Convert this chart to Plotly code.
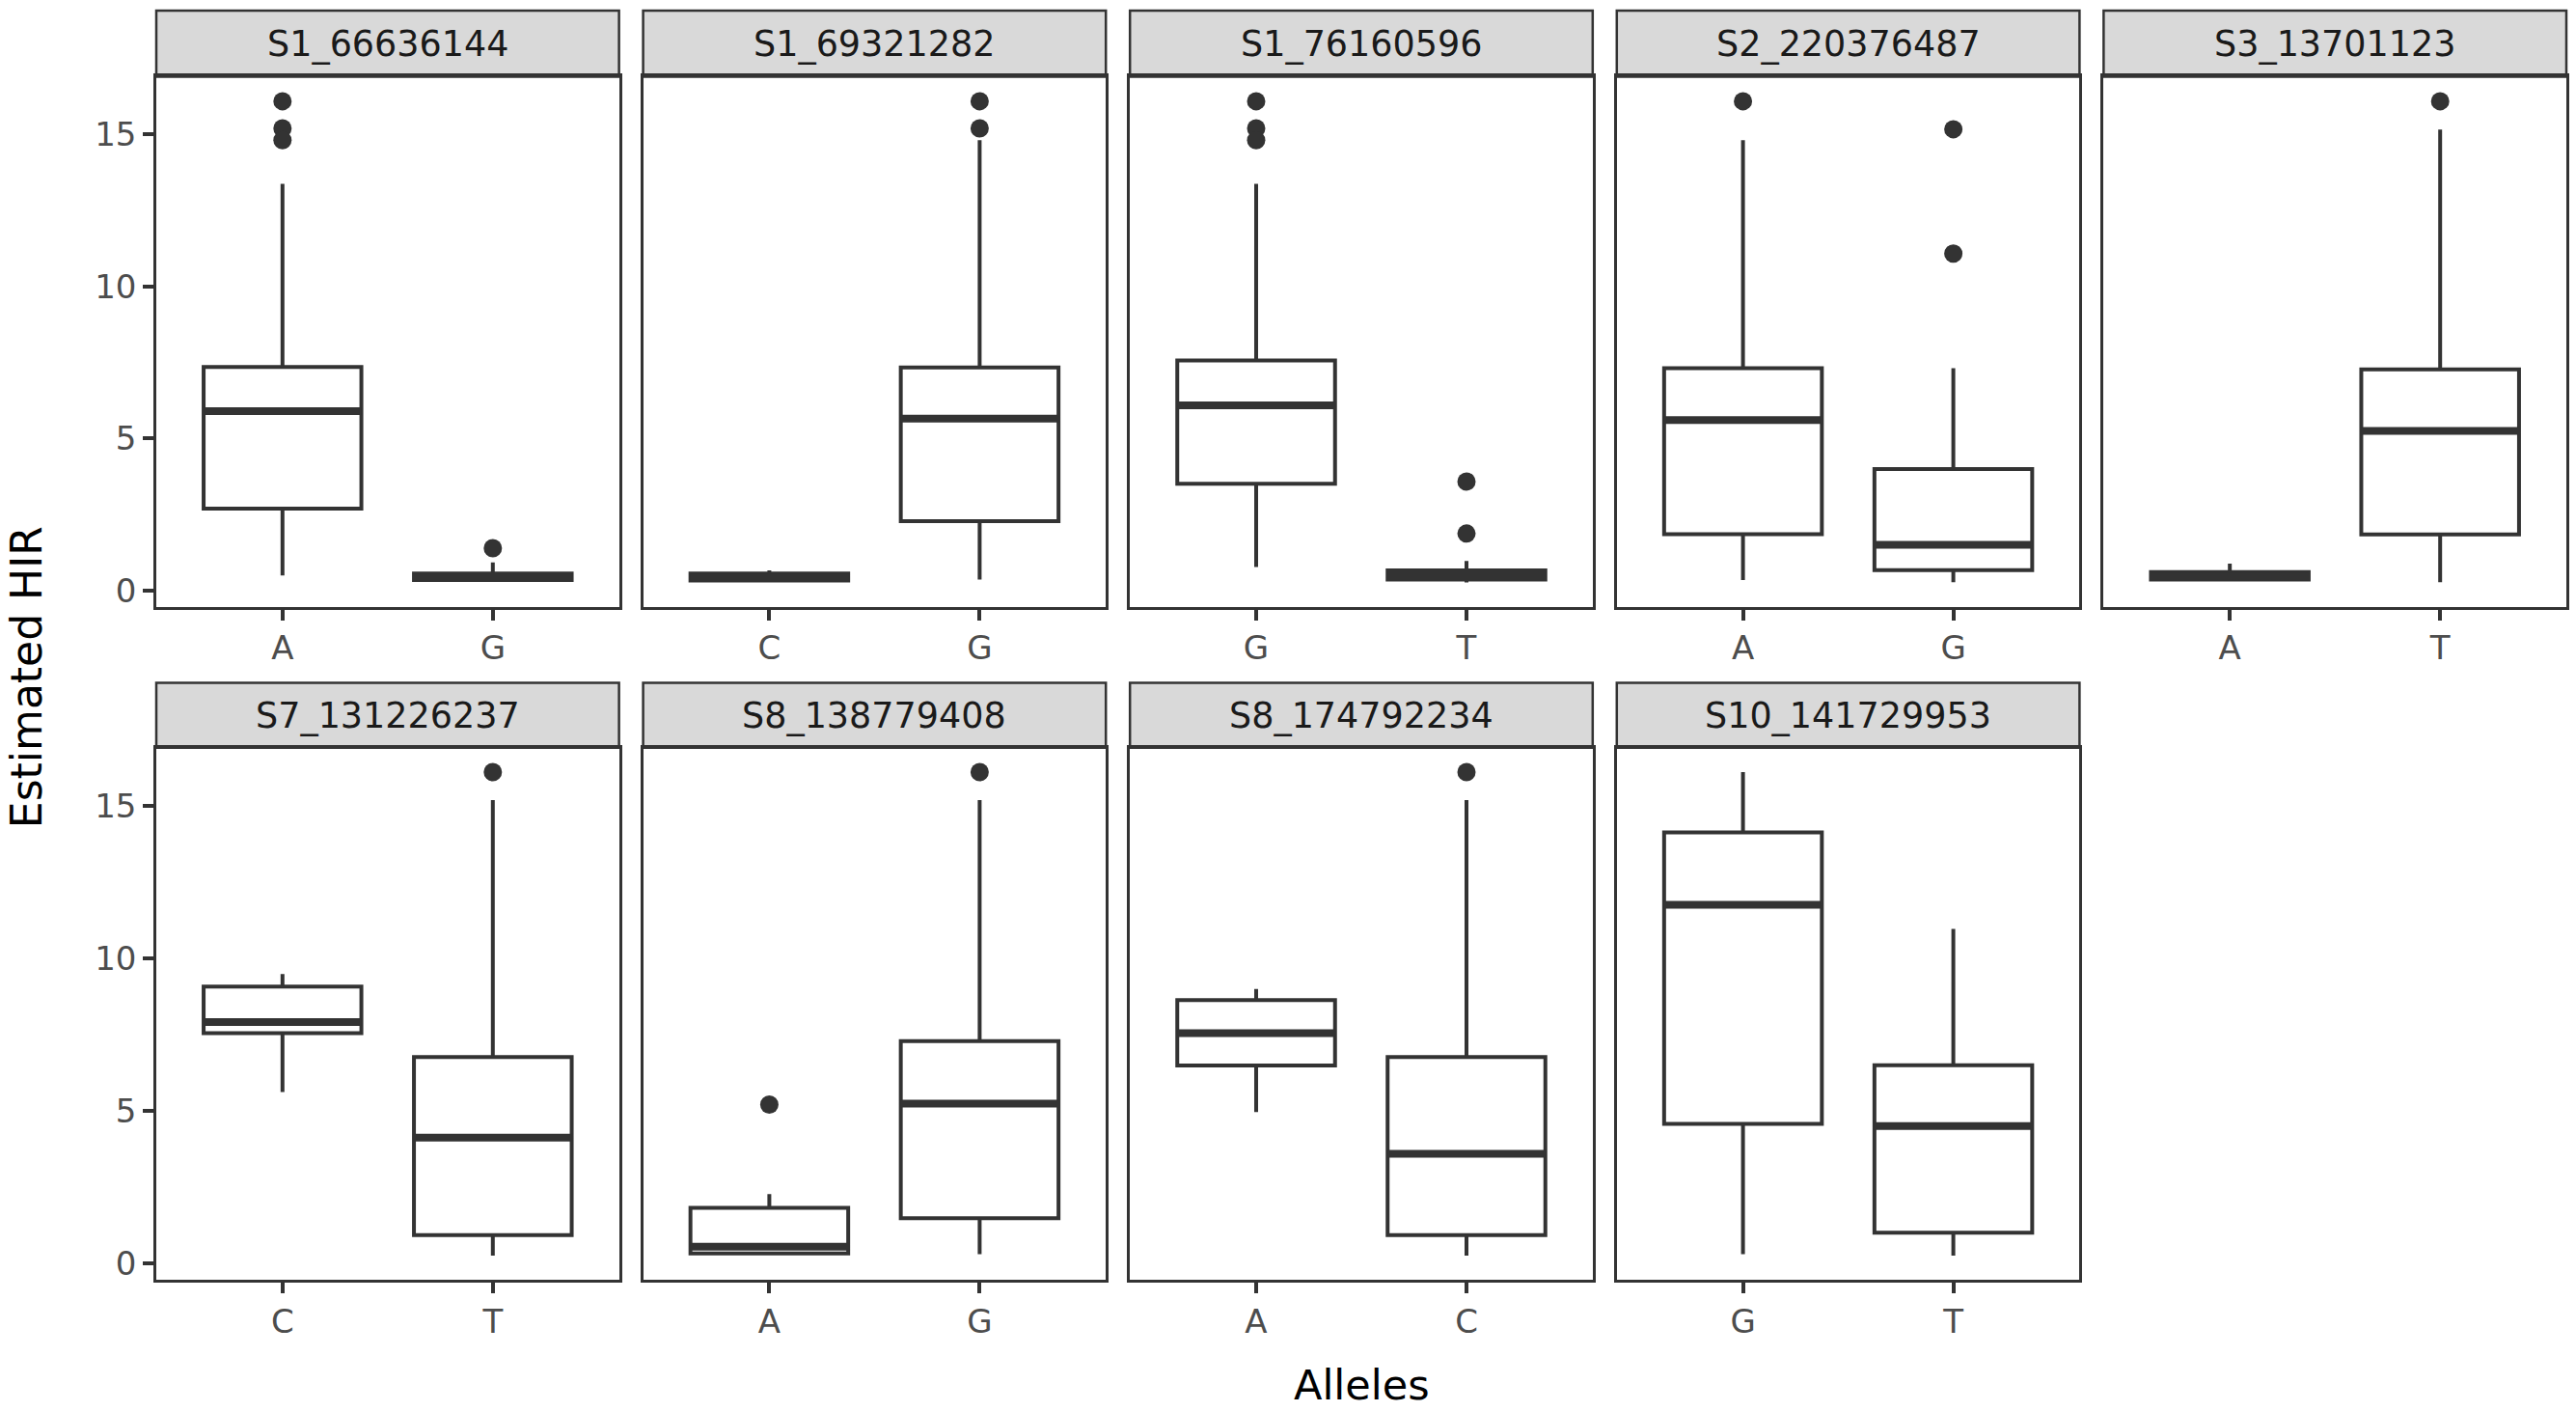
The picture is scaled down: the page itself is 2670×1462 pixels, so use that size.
import plotly.graph_objects as go

# ---- data ----
snps = ["S1_66636144", "S1_69321282", "S1_76160596", "S2_220376487", "S3_13701123",
        "S7_131226237", "S8_138779408", "S8_174792234", "S10_141729953"]
alleles = [["A", "G"], ["C", "G"], ["G", "T"], ["A", "G"], ["A", "T"],
           ["C", "T"], ["A", "G"], ["A", "C"], ["G", "T"]]
lower = [[0.49, 0.30], [0.30, 0.36], [0.77, 0.26], [0.34, 0.27], [0.30, 0.27],
         [5.61, 0.25], [0.27, 0.30], [4.96, 0.25], [0.30, 0.25]]
q1 = [[2.69, 0.34], [0.33, 2.28], [3.51, 0.36], [1.85, 0.67], [0.36, 1.84],
      [7.54, 0.92], [0.32, 1.48], [6.48, 0.92], [4.57, 1.00]]
median = [[5.90, 0.45], [0.42, 5.65], [6.09, 0.50], [5.60, 1.50], [0.45, 5.25],
          [7.91, 4.12], [0.54, 5.23], [7.54, 3.59], [11.75, 4.50]]
q3 = [[7.35, 0.56], [0.56, 7.33], [7.56, 0.66], [7.31, 3.99], [0.60, 7.27],
      [9.07, 6.76], [1.82, 7.28], [8.63, 6.76], [14.12, 6.49]]
upper = [[13.37, 0.92], [0.66, 14.81], [13.37, 0.97], [14.81, 7.31], [0.88, 15.16],
         [9.48, 15.18], [2.27, 15.18], [8.99, 15.18], [16.10, 10.96]]
outliers = [[[16.09, 15.20, 14.81], [1.39]], [[], [16.09, 15.20]], [[16.09, 15.20, 14.81], [3.58, 1.87]],
            [[16.09], [15.17, 11.08]], [[], [16.09]], [[], [16.10]], [[5.20], [16.10]],
            [[], [16.10]], [[], []]]
y_ticks = [0, 5, 10, 15]
x_title = "Alleles"
y_title = "Estimated HIR"

# ---- style ----
W, H = 2670, 1462
ML, MR, MT, MB = 162, 7, 11, 136
INK = "#333333"
BOX_W = 0.75
FONT = "DejaVu Sans"

fig = go.Figure()

ncol = 5
col_w, col_step = 0.192, 0.202
row_dom = [(0.5302, 0.9480), (0.0, 0.4192)]
strip_dom = [(0.9480, 1.0), (0.4192, 0.4704)]
yrange = [-0.54, 16.9]

annotations = []
shapes = []
for i, snp in enumerate(snps):
    r, c = divmod(i, ncol)
    sfx = "" if i == 0 else str(i + 1)
    xa, ya = "x" + sfx, "y" + sfx
    x0 = c * col_step
    x1 = x0 + col_w if c < ncol - 1 else 1.0
    for j, al in enumerate(alleles[i]):
        pos = j + 1
        fig.add_trace(go.Box(
            x=[pos], q1=[q1[i][j]], median=[median[i][j]], q3=[q3[i][j]],
            lowerfence=[lower[i][j]], upperfence=[upper[i][j]],
            boxpoints=False, fillcolor="white", line=dict(color=INK, width=4),
            whiskerwidth=0, width=BOX_W, xaxis=xa, yaxis=ya, showlegend=False,
            hoverinfo="skip"))
        fig.add_trace(go.Scatter(
            x=[pos - BOX_W / 2, pos + BOX_W / 2], y=[median[i][j], median[i][j]],
            mode="lines", line=dict(color=INK, width=8), xaxis=xa, yaxis=ya,
            showlegend=False, hoverinfo="skip"))
        if outliers[i][j]:
            fig.add_trace(go.Scatter(
                x=[pos] * len(outliers[i][j]), y=outliers[i][j], mode="markers",
                marker=dict(color=INK, size=19, line=dict(width=0)),
                xaxis=xa, yaxis=ya, showlegend=False, hoverinfo="skip"))
    first_col = c == 0
    fig.layout["xaxis" + sfx] = dict(
        domain=[x0, x1], anchor=ya, range=[0.4, 2.6], tickvals=[1, 2],
        ticktext=alleles[i], showgrid=False, zeroline=False, showline=True,
        mirror=True, linecolor=INK, linewidth=2.5, ticks="outside", ticklen=11,
        tickwidth=3.5, tickcolor=INK, tickfont=dict(family=FONT, size=34, color="#4D4D4D"),
        fixedrange=True)
    fig.layout["yaxis" + sfx] = dict(
        domain=list(row_dom[r]), anchor=xa, range=yrange, tickvals=y_ticks,
        showgrid=False, zeroline=False, showline=True, mirror=True, linecolor=INK,
        linewidth=2.5, ticks="outside" if first_col else "", ticklen=11, tickwidth=3.5,
        tickcolor=INK, showticklabels=first_col,
        tickfont=dict(family=FONT, size=34, color="#4D4D4D"), fixedrange=True)
    sy0, sy1 = strip_dom[r]
    shapes.append(dict(type="rect", xref="paper", yref="paper", x0=x0, x1=x1,
                       y0=sy0, y1=sy1, fillcolor="#D9D9D9",
                       line=dict(color=INK, width=2.5), layer="below"))
    annotations.append(dict(text=snp, xref="paper", yref="paper", x=(x0 + x1) / 2,
                            y=(sy0 + sy1) / 2, xanchor="center", yanchor="middle",
                            showarrow=False, font=dict(family=FONT, size=36.5, color="#1A1A1A")))

pw = W - ML - MR
ph = H - MT - MB
annotations.append(dict(text=x_title, xref="paper", yref="paper", x=0.5,
                        y=((H - MB) - 1460) / ph, xanchor="center",
                        yanchor="bottom", showarrow=False, borderpad=0, borderwidth=0,
                        font=dict(family=FONT, size=43, color="black")))
annotations.append(dict(text=y_title, xref="paper", yref="paper", x=(27 - ML) / pw,
                        y=((H - MB) - 702) / ph, xanchor="center", yanchor="middle",
                        textangle=-90, showarrow=False,
                        font=dict(family=FONT, size=44, color="black")))

fig.update_layout(width=W, height=H, margin=dict(l=ML, r=MR, t=MT, b=MB),
                  plot_bgcolor="white", paper_bgcolor="white",
                  annotations=annotations, shapes=shapes, showlegend=False,
                  font=dict(family=FONT))

fig.write_html("out.html", config={"displayModeBar": False},
               post_script="document.body.style.margin='0';")
